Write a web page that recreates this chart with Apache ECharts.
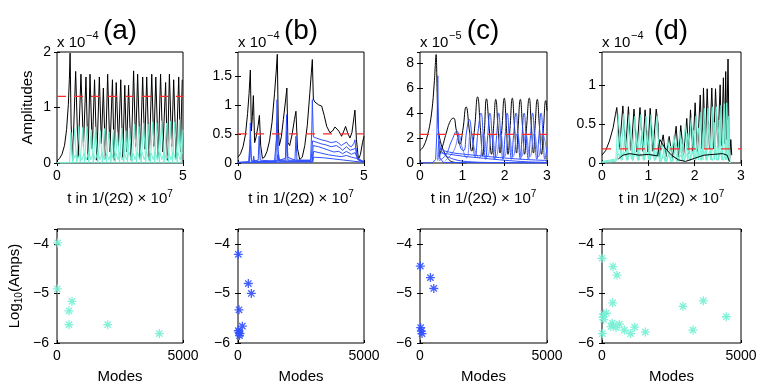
<!DOCTYPE html>
<html>
<head>
<meta charset="utf-8">
<script src="https://cdn.jsdelivr.net/npm/echarts@6/dist/echarts.min.js"></script>
<style>
  html, body { margin: 0; padding: 0; background: #fff; }
  #chart { width: 763px; height: 388px; }
</style>
</head>
<body>
<div id="chart"></div>
<script>
// ---- data (amplitudes in units of the panel multiplier) ----
const panelLabels = ['(a)', '(b)', '(c)', '(d)']
const panelExp = ['−4', '−4', '−5', '−4']
const tMax = [5, 5, 3, 3]
const ampMax = [2, 1.91, 8.9, 1.42]
const ampStep = [1, 0.5, 2, 0.5]
const thresholds = [1.2, 0.5, 2.3, 0.18]

const aBlack = [[0,0.04],[0.1,0.08],[0.2,0.16],[0.3,0.32],[0.38,0.6],[0.45,1.05],[0.49,1.5],[0.52,1.98],[0.56,0.7],[0.62,0.05],
  [0.74,1.65],[0.84,0.1],[0.95,1.6],[1.05,0.3],[1.15,1.55],[1.23,0.06],[1.31,1.6],[1.4,0.25],[1.49,1.5],[1.58,0.05],[1.68,1.55],
  [1.76,0.35],[1.84,1.35],[1.92,0.08],[2.01,1.6],[2.1,0.2],[2.2,1.5],[2.27,0.05],[2.35,1.45],[2.44,0.3],[2.53,1.5],[2.61,0.1],
  [2.69,1.4],[2.76,0.2],[2.84,1.4],[2.94,0.05],[3.04,1.66],[3.12,0.3],[3.2,1.6],[3.3,0.08],[3.4,1.55],[3.48,0.25],[3.56,1.55],
  [3.66,0.05],[3.76,1.6],[3.84,0.3],[3.92,1.55],[4.02,0.1],[4.11,1.6],[4.2,0.2],[4.31,1.45],[4.38,0.05],[4.46,1.6],[4.55,0.3],
  [4.63,1.5],[4.73,0.08],[4.83,1.55],[4.9,0.2],[4.97,1.5]]
const aCyan1 = [[0,0.005],[0.5,0.005],[0.55,0.55],[0.62,0.01],[0.7,0.62],[0.78,0.01],[0.86,0.66],[0.92,0.01],[1.02,0.64],[1.09,0.01],
  [1.19,0.66],[1.26,0.01],[1.36,0.6],[1.44,0.01],[1.53,0.65],[1.62,0.01],[1.72,0.58],[1.8,0.01],[1.88,0.62],[1.96,0.01],[2.06,0.56],
  [2.14,0.01],[2.24,0.6],[2.31,0.01],[2.4,0.55],[2.48,0.01],[2.57,0.63],[2.65,0.01],[2.73,0.58],[2.8,0.01],[2.88,0.62],[2.98,0.01],
  [3.08,0.7],[3.16,0.01],[3.25,0.66],[3.34,0.01],[3.44,0.72],[3.52,0.01],[3.61,0.7],[3.7,0.01],[3.8,0.74],[3.88,0.01],[3.96,0.72],
  [4.06,0.01],[4.15,0.76],[4.25,0.01],[4.35,0.72],[4.42,0.01],[4.5,0.75],[4.59,0.01],[4.67,0.74],[4.77,0.01],[4.86,0.78],[4.93,0.01],[5,0.6]]
const aCyan2 = [[0,0.005],[0.6,0.01],[0.72,0.14],[0.8,0.04],[0.9,0.16],[0.98,0.05],[1.08,0.18],[1.16,0.05],[1.26,0.2],[1.34,0.06],
  [1.44,0.18],[1.52,0.05],[1.62,0.2],[1.7,0.06],[1.8,0.19],[1.88,0.05],[1.98,0.17],[2.06,0.06],[2.16,0.2],[2.24,0.05],[2.34,0.18],
  [2.42,0.06],[2.5,0.2],[2.58,0.05],[2.68,0.17],[2.76,0.06],[2.86,0.2],[2.94,0.05],[3.02,0.18],[3.1,0.06],[3.2,0.2],[3.28,0.05],
  [3.38,0.19],[3.46,0.06],[3.56,0.2],[3.64,0.05],[3.74,0.18],[3.82,0.06],[3.9,0.2],[3.98,0.05],[4.08,0.19],[4.16,0.06],[4.26,0.2],
  [4.34,0.05],[4.44,0.18],[4.52,0.06],[4.62,0.2],[4.7,0.05],[4.8,0.19],[4.88,0.06],[4.98,0.2]]
const aCyan3 = [[0,0.004],[5,0.004]]

const bBlack = [[0,0.1],[0.1,0.16],[0.2,0.28],[0.3,0.5],[0.38,0.85],[0.44,1.2],[0.49,1.6],[0.53,0.55],[0.57,0.8],[0.61,1.16],
  [0.66,0.35],[0.72,0.45],[0.8,0.65],[0.85,0.82],[0.9,0.3],[0.97,0.08],[1.05,0.1],[1.15,0.2],[1.25,0.38],[1.35,0.7],[1.45,1.2],
  [1.52,1.6],[1.56,1.87],[1.6,0.6],[1.64,0.3],[1.72,0.45],[1.8,0.75],[1.88,1.05],[1.94,1.29],[1.98,0.35],[2.05,0.3],[2.15,0.5],
  [2.24,0.75],[2.3,0.89],[2.36,0.25],[2.45,0.06],[2.55,0.1],[2.65,0.3],[2.75,0.65],[2.85,1.2],[2.91,1.55],[2.95,1.78],[2.99,1.1],
  [3.05,1.05],[3.12,1.03],[3.2,1.0],[3.32,0.98],[3.42,0.82],[3.52,0.63],[3.65,0.52],[3.75,0.55],[3.85,0.62],[3.92,0.64],[4.0,0.55],
  [4.11,0.46],[4.2,0.55],[4.27,0.63],[4.35,0.52],[4.44,0.43],[4.52,0.52],[4.6,0.78],[4.64,0.91],[4.7,0.4],[4.78,0.06],[4.86,0.15],
  [4.94,0.35],[5.0,0.46]]
const bBlue1 = [[0,0.01],[0.42,0.02],[0.47,0.3],[0.49,0.69],[0.52,0.1],[0.56,0.03],[0.8,0.05],[0.84,0.46],[0.88,0.05],[1.45,0.03],
  [1.52,0.4],[1.55,1.09],[1.59,0.2],[1.65,0.05],[1.88,0.08],[1.93,0.83],[1.97,0.1],[2.26,0.05],[2.3,0.46],[2.34,0.05],[2.88,0.05],
  [2.93,0.6],[2.95,1.09],[2.99,0.45],[3.1,0.43],[3.3,0.4],[3.5,0.38],[3.7,0.35],[3.9,0.37],[4.0,0.34],[4.1,0.3],[4.2,0.33],[4.3,0.36],
  [4.4,0.3],[4.5,0.28],[4.6,0.34],[4.64,0.4],[4.7,0.12],[4.8,0.04],[5.0,0.02]]
const bBlue2 = [[0,0.01],[0.45,0.02],[0.49,0.4],[0.53,0.03],[1.5,0.03],[1.55,0.7],[1.6,0.05],[1.9,0.05],[1.94,0.55],[1.98,0.05],
  [2.9,0.04],[2.96,0.38],[3.1,0.36],[3.3,0.33],[3.5,0.31],[3.7,0.28],[3.9,0.3],[4.05,0.26],[4.15,0.22],[4.3,0.28],[4.45,0.22],
  [4.6,0.24],[4.68,0.26],[4.75,0.08],[5.0,0.02]]
const bBlue3 = [[0,0.005],[0.6,0.01],[0.62,0.12],[0.66,0.02],[1.55,0.02],[1.58,0.15],[1.62,0.03],[2.95,0.03],[2.98,0.3],[3.2,0.28],
  [3.4,0.25],[3.6,0.22],[3.8,0.19],[4.0,0.2],[4.15,0.16],[4.3,0.2],[4.5,0.15],[4.65,0.18],[4.75,0.06],[5,0.01]]
const bBlue4 = [[0,0.005],[2.95,0.02],[3.0,0.2],[3.3,0.17],[3.6,0.14],[3.9,0.12],[4.1,0.11],[4.3,0.13],[4.5,0.1],[4.7,0.08],[5,0.02]]
const bBlue5 = [[0,0.005],[1.0,0.02],[1.5,0.04],[2.97,0.02],[3.0,0.1],[3.4,0.09],[3.8,0.07],[4.2,0.05],[4.6,0.03],[5,0.01]]

const cBlack1 = [[0,1.0],[0.08,1.3],[0.16,2.0],[0.24,3.2],[0.3,4.8],[0.34,6.6],[0.38,8.7],[0.41,5.0],[0.44,2.5],[0.5,1.5],
  [0.58,0.8],[0.66,0.35],[0.75,0.1],[0.9,0.02],[1.1,0]]
const cBlack2 = [[0.45,0.6],[0.52,1.2],[0.62,2.4],[0.72,3.4],[0.79,3.6],[0.86,2.6],[0.94,1.5],[1.01,2.6],[1.09,4.5],[1.16,2.8],
  [1.22,0.95],[1.29,2.8],[1.36,5.3],[1.43,2.6],[1.48,0.55],[1.52,2.5],[1.57,5.15],[1.63,3.0],[1.69,0.7],[1.74,3.0],[1.79,5.1],
  [1.84,3.0],[1.89,0.8],[1.94,3.0],[1.99,5.2],[2.04,3.0],[2.08,0.7],[2.13,3.0],[2.18,5.2],[2.23,3.0],[2.28,0.8],[2.32,3.0],[2.37,5.1],
  [2.42,3.0],[2.47,0.7],[2.52,3.0],[2.58,5.2],[2.63,3.0],[2.68,0.8],[2.72,3.0],[2.77,5.1],[2.82,3.0],[2.87,0.7],[2.92,3.0],[2.97,5.0],[3.0,4.2]]
const cBlueSpike = [[0,0],[0.3,0.02],[0.37,0.3],[0.4,2.5],[0.42,7.0],[0.44,2.0],[0.47,0.4],[0.55,0.05],[3,0]]
const cBlueDecay1 = [[0.42,0.2],[0.45,1.8],[0.5,1.0],[0.6,0.6],[0.8,0.3],[1.0,0.15],[1.5,0.05],[3.0,0.01]]
const cBlueDecay2 = [[0.44,0.5],[0.48,1.1],[0.6,0.95],[0.8,0.8],[1.0,0.72],[1.5,0.55],[2.0,0.4],[2.5,0.28],[3.0,0.2]]
const cBlueDecay3 = [[0.45,0.3],[0.5,0.8],[0.7,0.7],[1.0,0.55],[1.5,0.38],[2.0,0.22],[2.5,0.1],[3.0,0.05]]
const cBlueOsc1 = [[0.45,0.2],[0.6,0.6],[0.75,1.8],[0.87,2.56],[0.96,1.2],[1.03,1.0],[1.1,2.5],[1.16,3.5],[1.24,1.8],[1.3,0.5],
  [1.37,2.5],[1.44,4.0],[1.5,2.0],[1.55,0.3],[1.6,2.2],[1.65,4.0],[1.71,2.0],[1.76,0.3],[1.81,2.2],[1.86,4.0],[1.91,2.0],[1.96,0.3],
  [2.01,2.2],[2.06,4.0],[2.11,2.0],[2.16,0.3],[2.21,2.2],[2.27,4.0],[2.32,2.0],[2.37,0.3],[2.41,2.2],[2.46,4.0],[2.51,2.0],[2.56,0.3],
  [2.61,2.2],[2.66,4.0],[2.71,2.0],[2.76,0.3],[2.81,2.2],[2.86,4.0],[2.91,2.0],[2.95,0.3],[3.0,1.3]]
const cBlueOsc2 = [[0.6,0.2],[0.8,1.0],[0.92,2.2],[1.0,1.2],[1.1,0.4],[1.2,2.5],[1.3,1.0],[1.4,0.4],[1.5,2.4],[1.6,0.5],[1.7,2.3],
  [1.8,0.5],[1.9,2.4],[2.0,0.5],[2.1,2.3],[2.2,0.5],[2.3,2.4],[2.4,0.5],[2.5,2.3],[2.6,0.5],[2.7,2.4],[2.8,0.5],[2.9,2.3],[3.0,0.6]]

const dBlack1 = [[0,0.1],[0.08,0.16],[0.16,0.28],[0.24,0.45],[0.29,0.62],[0.32,0.71],[0.38,0.2],[0.45,0.73],[0.51,0.15],[0.57,0.72],
  [0.63,0.16],[0.69,0.69],[0.75,0.14],[0.82,0.71],[0.88,0.15],[0.93,0.68],[0.99,0.14],[1.04,0.7],[1.1,0.15],[1.17,0.69],[1.21,0.5],
  [1.23,0.08],[1.27,0.2],[1.32,0.36],[1.38,0.08],[1.45,0.34],[1.52,0.06],[1.6,0.47],[1.65,0.08],[1.7,0.48],[1.76,0.1],[1.83,0.57],
  [1.87,0.12],[1.91,0.68],[1.96,0.15],[2.01,0.77],[2.06,0.15],[2.12,0.87],[2.16,0.18],[2.19,0.96],[2.23,0.18],[2.27,0.95],[2.32,0.18],
  [2.37,0.96],[2.41,0.18],[2.45,0.95],[2.5,0.2],[2.55,1.0],[2.58,0.22],[2.62,1.09],[2.65,0.25],[2.67,1.17],[2.69,0.3],[2.72,1.33],
  [2.75,0.0],[2.78,0.3],[2.8,0.1]]
const dBlack2 = [[0.35,0.05],[0.45,0.1],[0.6,0.12],[0.8,0.1],[1.0,0.11],[1.2,0.09],[1.25,0.3],[1.35,0.2],[1.5,0.1],[1.65,0.04],
  [1.8,0.02],[2.0,0.06],[2.2,0.1],[2.4,0.11],[2.6,0.12],[2.7,0.1],[2.75,0.02]]
const dCyan1 = [[0,0.02],[0.3,0.05],[0.35,0.62],[0.41,0.05],[0.47,0.63],[0.53,0.05],[0.59,0.62],[0.65,0.05],[0.71,0.6],[0.77,0.05],
  [0.84,0.62],[0.9,0.05],[0.95,0.6],[1.01,0.05],[1.06,0.62],[1.12,0.05],[1.19,0.6],[1.24,0.02],[1.3,0.25],[1.36,0.02],[1.42,0.3],
  [1.48,0.02],[1.55,0.35],[1.62,0.02],[1.68,0.4],[1.73,0.03],[1.8,0.5],[1.85,0.03],[1.93,0.58],[1.98,0.04],[2.03,0.6],[2.08,0.04],
  [2.14,0.65],[2.18,0.04],[2.21,0.7],[2.25,0.04],[2.29,0.7],[2.34,0.04],[2.39,0.72],[2.43,0.04],[2.47,0.72],[2.52,0.04],[2.57,0.74],
  [2.6,0.04],[2.64,0.76],[2.66,0.04],[2.69,0.77],[2.72,0.04],[2.74,0.6],[2.76,0.0]]
const dCyan2 = [[0,0.01],[0.33,0.04],[0.38,0.42],[0.44,0.04],[0.5,0.4],[0.56,0.04],[0.62,0.42],[0.68,0.04],[0.74,0.4],[0.8,0.04],
  [0.86,0.42],[0.92,0.04],[0.98,0.4],[1.04,0.04],[1.1,0.42],[1.16,0.04],[1.22,0.3],[1.28,0.02],[1.34,0.18],[1.4,0.02],[1.47,0.22],
  [1.53,0.02],[1.6,0.26],[1.66,0.02],[1.72,0.3],[1.78,0.03],[1.86,0.38],[1.91,0.03],[1.97,0.42],[2.02,0.04],[2.09,0.45],[2.14,0.04],
  [2.2,0.5],[2.25,0.04],[2.31,0.5],[2.36,0.04],[2.42,0.52],[2.47,0.04],[2.53,0.55],[2.58,0.04],[2.63,0.56],[2.68,0.04],[2.71,0.55],[2.76,0.0]]
const dCyan3 = [[0,0.01],[0.3,0.02],[0.36,0.12],[0.42,0.03],[0.48,0.14],[0.54,0.03],[0.6,0.12],[0.66,0.03],[0.72,0.14],[0.78,0.03],
  [0.84,0.12],[0.9,0.03],[0.96,0.14],[1.02,0.03],[1.08,0.12],[1.14,0.03],[1.2,0.14],[1.26,0.02],[1.32,0.08],[1.38,0.02],[1.44,0.1],
  [1.5,0.02],[1.56,0.08],[1.62,0.02],[1.7,0.1],[1.76,0.02],[1.84,0.12],[1.9,0.03],[1.96,0.14],[2.02,0.03],[2.08,0.15],[2.14,0.03],
  [2.2,0.16],[2.26,0.03],[2.32,0.15],[2.38,0.03],[2.44,0.16],[2.5,0.03],[2.56,0.15],[2.62,0.03],[2.68,0.16],[2.74,0.03],[2.76,0.0]]

// log10 amplitude per mode index
const modesA = [[26,-3.98],[10,-4.91],[595,-5.16],[476,-5.35],[476,-5.63],[2011,-5.63],[4061,-5.81]]
const modesB = [[13,-4.21],[410,-4.8],[529,-5.0],[40,-5.33],[172,-5.66],[13,-5.75],[79,-5.81],[40,-5.78],[60,-5.85]]
const modesC = [[13,-4.45],[410,-4.68],[542,-4.9],[26,-5.69],[53,-5.76],[79,-5.81]]
const modesD = [[0,-4.29],[396,-4.46],[540,-4.63],[384,-5.19],[2914,-5.26],[3645,-5.15],[4472,-5.47],[3273,-5.74],[60,-5.41],
  [156,-5.4],[36,-5.48],[60,-5.53],[372,-5.6],[624,-5.62],[324,-5.67],[504,-5.69],[803,-5.74],[1175,-5.68],[1031,-5.81],
  [1559,-5.78],[12,-5.81]]
const modeMax = 5000
const logMin = -6
const logMax = -3.7

// ---- styling / layout ----
const FONT = 'Liberation Sans, Arial, Helvetica, sans-serif'
const BLACK = '#000000'
const CYAN = '#74f0d4'
const BLUE = '#3050ff'
const RED = '#ff2a2a'
const lefts = [57, 238, 420, 602]
const widths = [126, 126, 127, 139]
const topRow = { top: 52, height: 111 }
const botRow = { top: 229, height: 114 }
const STAR = 'path://M0,-10L0,10M-10,0L10,0M-7,-7L7,7M-7,7L7,-7'

const chart = echarts.init(document.getElementById('chart'), null, { renderer: 'canvas' })

const minus = v => String(v).replace('-', '−')

const grid = []
const xAxis = []
const yAxis = []
for (let i = 0; i < 4; i++) {
  grid.push({ left: lefts[i], width: widths[i], top: topRow.top, height: topRow.height,
    show: true, borderColor: '#000', borderWidth: 1, backgroundColor: 'transparent' })
}
for (let i = 0; i < 4; i++) {
  grid.push({ left: lefts[i], width: widths[i], top: botRow.top, height: botRow.height,
    show: true, borderColor: '#000', borderWidth: 1, backgroundColor: 'transparent' })
}

function baseAxis(extra) {
  return Object.assign({
    type: 'value',
    axisLine: { show: false },
    splitLine: { show: false },
    axisTick: { inside: true, length: 3, lineStyle: { color: '#000' } },
    axisLabel: { color: '#000', fontFamily: FONT, fontSize: 14, margin: 6, formatter: minus },
    nameTextStyle: { color: '#000', fontFamily: FONT, fontSize: 15 }
  }, extra)
}

const xName = {
  name: '{m|t in 1/(2Ω) × 10}{s|7}',
  nameLocation: 'middle',
  nameGap: 26,
  nameTextStyle: {
    color: '#000', fontFamily: FONT, fontSize: 15,
    rich: {
      m: { fontFamily: FONT, fontSize: 15, color: '#000' },
      s: { fontFamily: FONT, fontSize: 10, color: '#000', padding: [0, 0, 9, 0] }
    }
  }
}

// main axes: top row 0..3, bottom row 4..7
for (let i = 0; i < 4; i++) {
  xAxis.push(baseAxis(Object.assign({ gridIndex: i, min: 0, max: tMax[i], interval: tMax[i] === 5 ? 5 : 1 }, xName)))
  const y = baseAxis({ gridIndex: i, min: 0, max: ampMax[i], interval: ampStep[i] })
  y.axisLabel = Object.assign({}, y.axisLabel, { showMaxLabel: i === 0 })
  if (i === 0) {
    y.name = 'Amplitudes'
    y.nameLocation = 'middle'
    y.nameGap = 22
  }
  yAxis.push(y)
}
for (let i = 0; i < 4; i++) {
  xAxis.push(baseAxis({ gridIndex: 4 + i, min: 0, max: modeMax, interval: modeMax,
    name: 'Modes', nameLocation: 'middle', nameGap: 26 }))
  const y = baseAxis({ gridIndex: 4 + i, min: logMin, max: logMax, interval: 1 })
  y.axisLabel = Object.assign({}, y.axisLabel, { showMaxLabel: false, margin: 8 })
  if (i === 0) {
    y.name = '{m|Log}{s|10}{m|(Amps)}'
    y.nameLocation = 'middle'
    y.nameGap = 33
    y.nameTextStyle = {
      color: '#000', fontFamily: FONT, fontSize: 15,
      rich: {
        m: { fontFamily: FONT, fontSize: 15, color: '#000' },
        s: { fontFamily: FONT, fontSize: 10, color: '#000', padding: [8, 0, 0, 0] }
      }
    }
  }
  yAxis.push(y)
}
// mirrored ticks on top / right edges (box axes)
for (let g = 0; g < 8; g++) {
  const row = g < 4 ? 0 : 1
  const i = g % 4
  xAxis.push(baseAxis({ gridIndex: g, position: 'top', min: 0, max: row ? modeMax : tMax[i],
    interval: row ? modeMax : (tMax[i] === 5 ? 5 : 1), axisLabel: { show: false } }))
  yAxis.push(baseAxis({ gridIndex: g, position: 'right', min: row ? logMin : 0, max: row ? logMax : ampMax[i],
    interval: row ? 1 : ampStep[i], axisLabel: { show: false } }))
}

function line(idx, data, color, opts) {
  return Object.assign({
    type: 'line', xAxisIndex: idx, yAxisIndex: idx, data: data,
    showSymbol: false, symbol: 'none', silent: true, animation: false,
    lineStyle: { color: color, width: 1 }
  }, opts || {})
}
function redLine(idx) {
  return line(idx, [[0, thresholds[idx]], [tMax[idx], thresholds[idx]]], RED,
    { lineStyle: { color: RED, width: 1.2, type: [9, 8] }, z: 5 })
}
function stars(idx, data, color) {
  return {
    type: 'scatter', xAxisIndex: idx, yAxisIndex: idx, data: data, silent: true, animation: false,
    symbol: STAR, symbolSize: 9,
    itemStyle: { color: 'transparent', borderColor: color, borderWidth: 1.3, opacity: 0.9 }
  }
}

const series = [
  line(0, aBlack, BLACK),
  line(0, aCyan2, CYAN),
  line(0, aCyan1, CYAN),
  line(0, aCyan3, CYAN),
  redLine(0),

  line(1, bBlack, BLACK),
  line(1, bBlue5, BLUE),
  line(1, bBlue4, BLUE),
  line(1, bBlue3, BLUE),
  line(1, bBlue2, BLUE),
  line(1, bBlue1, BLUE),
  redLine(1),

  line(2, cBlack1, BLACK, { smooth: 0.3 }),
  line(2, cBlack2, BLACK, { smooth: 0.5 }),
  line(2, cBlueOsc2, '#6f86ff', { smooth: 0.5 }),
  line(2, cBlueOsc1, BLUE, { smooth: 0.5 }),
  line(2, cBlueDecay1, BLUE, { smooth: 0.3 }),
  line(2, cBlueDecay2, BLUE, { smooth: 0.3 }),
  line(2, cBlueDecay3, BLUE, { smooth: 0.3 }),
  line(2, cBlueSpike, BLUE),
  redLine(2),

  line(3, dBlack1, BLACK),
  line(3, dCyan3, CYAN),
  line(3, dCyan2, CYAN),
  line(3, dCyan1, CYAN),
  line(3, dBlack2, BLACK),
  redLine(3),

  stars(4, modesA, CYAN),
  stars(5, modesB, BLUE),
  stars(6, modesC, BLUE),
  stars(7, modesD, CYAN)
]

const graphic = []
const titleX = [120, 301, 483, 671]
for (let i = 0; i < 4; i++) {
  graphic.push({ type: 'text', x: titleX[i], y: 31,
    style: { text: panelLabels[i], font: '28px ' + FONT, fill: '#000', textAlign: 'center', textVerticalAlign: 'middle' } })
  graphic.push({ type: 'text', x: lefts[i], y: 43,
    style: { text: 'x 10', font: '15px ' + FONT, fill: '#000', textAlign: 'left', textVerticalAlign: 'middle' } })
  graphic.push({ type: 'text', x: lefts[i] + 29, y: 36,
    style: { text: panelExp[i], font: '11px ' + FONT, fill: '#000', textAlign: 'left', textVerticalAlign: 'middle' } })
}

chart.setOption({
  backgroundColor: '#fff',
  animation: false,
  grid: grid,
  xAxis: xAxis,
  yAxis: yAxis,
  series: series,
  graphic: graphic
})
</script>
</body>
</html>
